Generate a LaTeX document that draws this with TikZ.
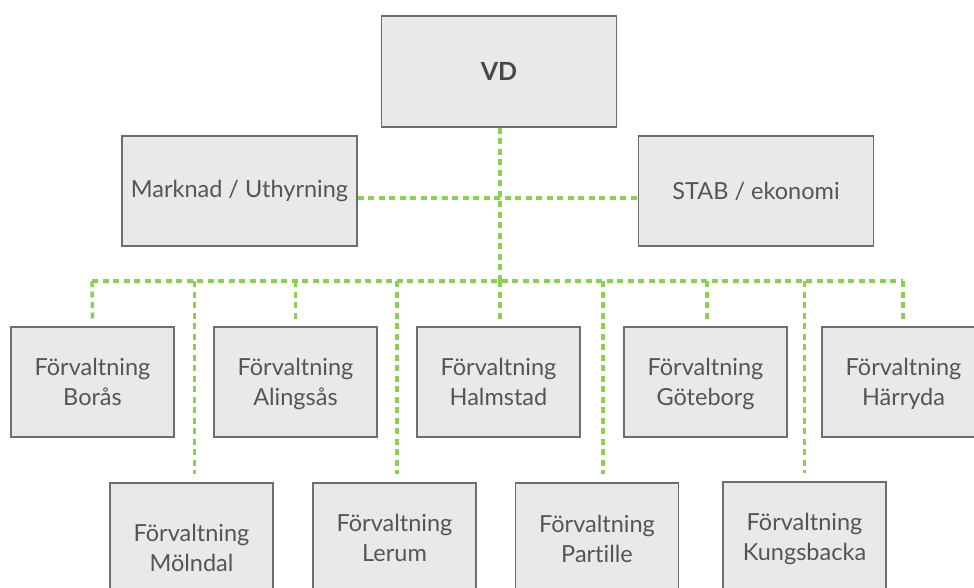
\documentclass[tikz,border=0pt]{standalone}
\usepackage{fontspec}
\setmainfont{Lato}[Ligatures={NoCommon}]
\usetikzlibrary{calc}
\definecolor{boxfill}{HTML}{E9E9E9}
\definecolor{boxline}{HTML}{6E6E6E}
\definecolor{boxtext}{HTML}{555555}
\definecolor{linkgreen}{HTML}{8CD052}
\begin{document}
\begin{tikzpicture}[x=1pt,y=-1pt,
  unit/.style={draw=boxline, line width=1.1pt, fill=boxfill, text=boxtext,
    minimum width=163pt, minimum height=110pt, inner sep=0pt, align=center,
    font=\fontsize{23.5}{30}\selectfont},
  pair/.style={text height=52pt, text depth=5pt},
  wide/.style={unit, minimum width=235pt},
  link/.style={draw=linkgreen, line width=3.4pt, dash pattern=on 6pt off 4.5pt}]
\useasboundingbox (0,0) rectangle (974,588);
\begin{scope}
\clip (0,0) rectangle (974,588);
% top level
\node[wide, minimum height=111pt, text=boxtext!85!black, font=\fontsize{25}{30}\selectfont\bfseries] (vd) at (499,71.5) {VD};
\node[wide] (mk) at (239.5,191) {Marknad / Uthyrning};
\node[wide] (stab) at (756,191) {STAB / ekonomi};
% first row of units
\node[unit, pair] (bor) at (92.5,382) {Förvaltning\\Borås};
\node[unit, pair] (ali) at (295.5,382) {Förvaltning\\Alingsås};
\node[unit, pair] (hal) at (498.5,382) {Förvaltning\\Halmstad};
\node[unit, pair] (got) at (705.5,382) {Förvaltning\\Göteborg};
\node[unit, pair] (har) at (903.5,382) {Förvaltning\\Härryda};
% second row of units
\node[unit, pair, minimum height=130pt] (mol) at (191.5,548) {Förvaltning\\Mölndal};
\node[unit, pair] (ler) at (394.5,538) {Förvaltning\\Lerum};
\node[unit, pair, minimum height=112pt] (par) at (597,539) {Förvaltning\\Partille};
\node[unit, pair] (kun) at (804.5,537) {Förvaltning\\Kungsbacka};
% connectors
\coordinate (busL) at (92,281);
\coordinate (busR) at (903,281);
\draw[link] ([yshift=-7pt]mk.east) -- ([yshift=-7pt]stab.west);
\draw[link] ([xshift=1pt]vd.south) -- ([xshift=1pt]vd.south |- busL);
\draw[link] (busL) -- (busR);
\draw[link, shorten >=5pt] (busL) -- (bor.north);
\draw[link, shorten >=8pt] ([xshift=3pt]mol.north |- busL) -- ([xshift=3pt]mol.north);
\draw[link, shorten >=5pt] (ali.north |- busL) -- (ali.north);
\draw[link, shorten >=8pt] ([xshift=2.5pt]ler.north |- busL) -- ([xshift=2.5pt]ler.north);
\draw[link, shorten >=5pt] ([xshift=1.5pt]hal.north |- busL) -- ([xshift=1.5pt]hal.north);
\draw[link, shorten >=8pt] ([xshift=6pt]par.north |- busL) -- ([xshift=6pt]par.north);
\draw[link, shorten >=5pt] ([xshift=1.5pt]got.north |- busL) -- ([xshift=1.5pt]got.north);
\draw[link, shorten >=8pt] (kun.north |- busL) -- (kun.north);
\draw[link, shorten >=5pt] (busR) -- (busR |- har.north);
\end{scope}
\end{tikzpicture}
\end{document}
